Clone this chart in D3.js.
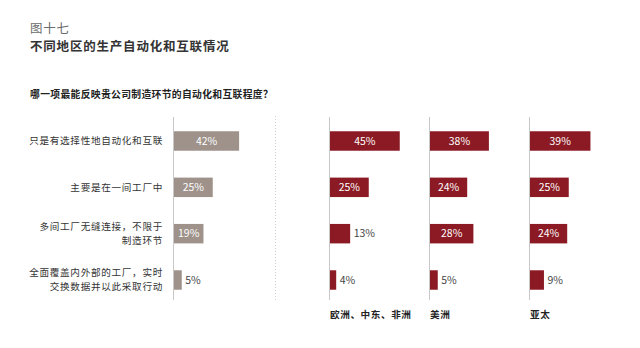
<!DOCTYPE html>
<html>
<head>
<meta charset="utf-8">
<script src="https://cdn.jsdelivr.net/npm/d3@7/dist/d3.min.js"></script>
<style>
  html, body { margin: 0; padding: 0; background: #fff; }
  svg { display: block; }
  text { font-family: "Noto Sans CJK SC", "Noto Sans", sans-serif; }
</style>
</head>
<body>
<svg id="chart" width="640" height="348"></svg>
<script>
// Answer options (rows)
const categories = [
  ["只是有选择性地自动化和互联"],
  ["主要是在一间工厂中"],
  ["多间工厂无缝连接，不限于", "制造环节"],
  ["全面覆盖内外部的工厂，实时", "交换数据并以此采取行动"]
];
// Overall results (%)
const totalValues = [42, 25, 19, 5];
// Regional panels
const regions = ["欧洲、中东、非洲", "美洲", "亚太"];
const emeaValues = [45, 25, 13, 4];
const americasValues = [38, 24, 28, 5];
const apacValues = [39, 25, 24, 9];
const regionValues = [emeaValues, americasValues, apacValues];

const titleLine1 = "图十七";
const titleLine2 = "不同地区的生产自动化和互联情况";
const question = "哪一项最能反映贵公司制造环节的自动化和互联程度？";

const svg = d3.select("#chart");

// Titles
svg.append("text").attr("x", 30).attr("y", 32.5)
  .attr("font-size", 12.5).attr("fill", "#6b6b6b").attr("letter-spacing", 0.8)
  .text(titleLine1);
svg.append("text").attr("x", 30).attr("y", 51)
  .attr("font-size", 12.5).attr("font-weight", "bold").attr("fill", "#333")
  .attr("letter-spacing", 0.8)
  .text(titleLine2);
svg.append("text").attr("x", 30).attr("y", 98)
  .attr("font-size", 9.8).attr("font-weight", "bold").attr("fill", "#222")
  .attr("letter-spacing", 0.33)
  .text(question);

// Shared scales
const y = d3.scaleBand().domain(d3.range(categories.length))
  .range([122, 299]).paddingInner(0.58).paddingOuter(0.2);
const xLen = d3.scaleLinear().domain([0, 10]).range([0, 15.5]);
const insideThreshold = 15;

function drawPanel(x0, values, color, axisTop, axisBottom) {
  const g = svg.append("g").attr("transform", `translate(${x0},0)`);
  g.append("line").attr("x1", 0).attr("x2", 0)
    .attr("y1", axisTop).attr("y2", axisBottom)
    .attr("stroke", "#c8c8c8").attr("stroke-width", 1);
  g.selectAll("rect.bar").data(values).join("rect")
    .attr("class", "bar")
    .attr("x", 0.5)
    .attr("y", (d, i) => y(i))
    .attr("width", d => xLen(d))
    .attr("height", y.bandwidth())
    .attr("fill", color);
  g.selectAll("text.val").data(values).join("text")
    .attr("class", "val")
    .attr("x", d => d >= insideThreshold ? xLen(d) / 2 + 0.5 : xLen(d) + 4)
    .attr("y", (d, i) => y(i) + y.bandwidth() / 2)
    .attr("dy", "0.35em")
    .attr("text-anchor", d => d >= insideThreshold ? "middle" : "start")
    .attr("font-family", "Liberation Sans, Arial, sans-serif")
    .attr("font-size", 10.5)
    .attr("fill", d => d >= insideThreshold ? "#fff" : "#444")
    .text(d => d + "%");
  return g;
}

// Row labels
const labelG = svg.append("g");
categories.forEach((lines, i) => {
  const cy = y(i) + y.bandwidth() / 2;
  const t = labelG.append("text")
    .attr("x", 163).attr("text-anchor", "end")
    .attr("font-size", 9.6).attr("fill", "#333")
    .attr("letter-spacing", 0.7);
  const n = lines.length;
  lines.forEach((ln, k) => {
    t.append("tspan").attr("x", 163)
      .attr("y", cy + (k - (n - 1) / 2) * 14)
      .attr("dy", "0.35em")
      .text(ln);
  });
});

// Overall panel
drawPanel(173.5, totalValues, "#9e928b", 117, 300);

// Dotted separator
svg.append("line").attr("x1", 275.5).attr("x2", 275.5)
  .attr("y1", 116).attr("y2", 300)
  .attr("stroke", "#cfcfcf").attr("stroke-width", 1)
  .attr("stroke-dasharray", "1,2");

// Regional panels
const regionX = [329.5, 429.5, 529.5];
regionValues.forEach((vals, r) => {
  drawPanel(regionX[r], vals, "#8b1a24", 117, 300);
  svg.append("text")
    .attr("x", regionX[r] + 0.5).attr("y", 318)
    .attr("font-size", 9.6).attr("font-weight", "bold").attr("fill", "#222")
    .attr("letter-spacing", 0.6)
    .text(regions[r]);
});
</script>
</body>
</html>
